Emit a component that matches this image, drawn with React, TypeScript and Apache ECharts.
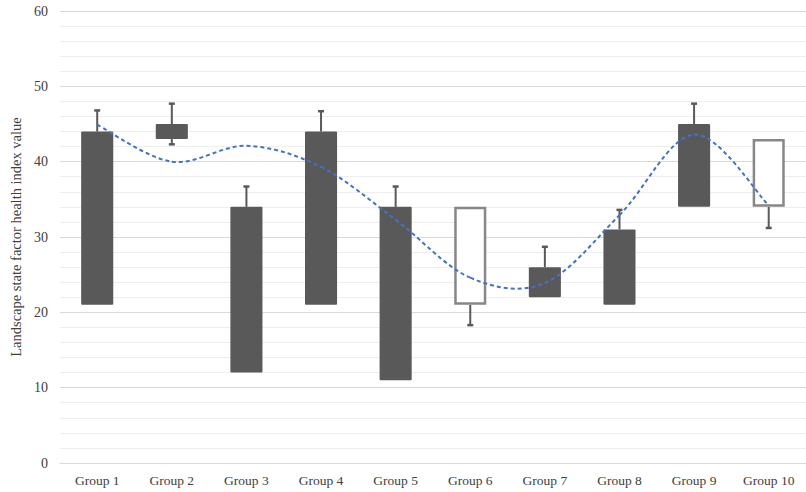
import React, { useEffect, useRef } from "react";
import * as echarts from "echarts";

// Group labels along the x axis
const categories = [
  "Group 1", "Group 2", "Group 3", "Group 4", "Group 5",
  "Group 6", "Group 7", "Group 8", "Group 9", "Group 10",
];

// Floating bar ends (open -> close) and whisker extents
const openValues = [44, 45, 34, 44, 34, 21, 26, 31, 45, 34];
const closeValues = [21, 43, 12, 21, 11, 34, 22, 21, 34, 43];
const lowValues = [21, 42.3, 12, 21, 11, 18.3, 22, 21, 34, 31.2];
const highValues = [46.8, 47.7, 36.7, 46.7, 36.7, 34, 28.7, 33.6, 47.7, 43];

// Smoothed dashed trend line
const trendValues = [44.9, 40.0, 42.1, 39.3, 32.3, 24.6, 23.9, 32.9, 43.6, 34.2];

// Y axis tick labels
const yTicks = [0, 10, 20, 30, 40, 50, 60];

const FONT = "'Liberation Serif', 'Times New Roman', serif";
const DOWN_FILL = "#595959";
const UP_BORDER = "#878787";
const WHISKER = "#595959";
const TREND = "#4472c4";

export default function App() {
  const ref = useRef<HTMLDivElement>(null);

  useEffect(() => {
    if (!ref.current) return;
    const chart = echarts.init(ref.current, undefined, { renderer: "svg" });

    const stockData = categories.map((_, i) => [
      i, openValues[i], closeValues[i], lowValues[i], highValues[i],
    ]);
    const trendData = trendValues.map((v, i) => [i, v]);

    // Floating bar with whiskers and end caps
    const renderStock = (params: any, api: any) => {
      const idx = api.value(0);
      const open = api.value(1);
      const close = api.value(2);
      const low = api.value(3);
      const high = api.value(4);
      const bandW = api.size([1, 0])[0];
      const barW = bandW * 0.43;
      const top = Math.max(open, close);
      const bottom = Math.min(open, close);
      const pTop = api.coord([idx, top]);
      const pBot = api.coord([idx, bottom]);
      const cx = pTop[0];
      const rising = close > open;
      const capHalf = 3;
      const children: any[] = [];

      const whiskerStyle = { stroke: WHISKER, lineWidth: 2, fill: null };
      const capStyle = { stroke: WHISKER, lineWidth: 2.5 };
      if (high > top) {
        const pH = api.coord([idx, high]);
        children.push({
          type: "line",
          shape: { x1: cx, y1: pTop[1], x2: cx, y2: pH[1] },
          style: whiskerStyle,
        });
        children.push({
          type: "line",
          shape: { x1: cx - capHalf, y1: pH[1], x2: cx + capHalf, y2: pH[1] },
          style: capStyle,
        });
      }
      if (low < bottom) {
        const pL = api.coord([idx, low]);
        children.push({
          type: "line",
          shape: { x1: cx, y1: pBot[1], x2: cx, y2: pL[1] },
          style: whiskerStyle,
        });
        children.push({
          type: "line",
          shape: { x1: cx - capHalf, y1: pL[1], x2: cx + capHalf, y2: pL[1] },
          style: capStyle,
        });
      }

      if (rising) {
        const lw = 2.5;
        children.push({
          type: "rect",
          shape: {
            x: cx - barW / 2 + lw / 2,
            y: pTop[1] + lw / 2,
            width: barW - lw,
            height: pBot[1] - pTop[1] - lw,
          },
          style: { fill: "#ffffff", stroke: UP_BORDER, lineWidth: lw },
        });
      } else {
        children.push({
          type: "rect",
          shape: {
            x: cx - barW / 2,
            y: pTop[1],
            width: barW,
            height: pBot[1] - pTop[1],
            r: 1,
          },
          style: { fill: DOWN_FILL },
        });
      }
      return { type: "group", children };
    };

    // Smooth trend: one cubic Bezier per segment, Catmull-Rom tangents
    const renderTrend = (params: any, api: any) => {
      const i = params.dataIndex;
      const n = trendValues.length;
      if (i >= n - 1) return null;
      const pt = (j: number) => {
        const k = Math.min(Math.max(j, 0), n - 1);
        return api.coord([k, trendValues[k]]);
      };
      const p0 = pt(i - 1);
      const p1 = pt(i);
      const p2 = pt(i + 1);
      const p3 = pt(i + 2);
      return {
        type: "bezierCurve",
        shape: {
          x1: p1[0],
          y1: p1[1],
          x2: p2[0],
          y2: p2[1],
          cpx1: p1[0] + (p2[0] - p0[0]) / 6,
          cpy1: p1[1] + (p2[1] - p0[1]) / 6,
          cpx2: p2[0] - (p3[0] - p1[0]) / 6,
          cpy2: p2[1] - (p3[1] - p1[1]) / 6,
        },
        style: { stroke: TREND, lineWidth: 2, lineDash: [4, 3], fill: null },
      };
    };

    chart.setOption({
      animation: false,
      backgroundColor: "#ffffff",
      grid: { left: 54.5, top: 11, width: 763, bottom: 29, containLabel: false },
      xAxis: {
        type: "category",
        data: categories,
        boundaryGap: true,
        axisLine: { show: true, lineStyle: { color: "#d9d9d9", width: 1 } },
        axisTick: { show: false },
        axisLabel: {
          color: "#404040",
          fontFamily: FONT,
          fontSize: 13.5,
          margin: 10,
          interval: 0,
        },
        splitLine: { show: false },
      },
      yAxis: {
        type: "value",
        min: yTicks[0],
        max: yTicks[yTicks.length - 1],
        interval: 10,
        name: "Landscape state factor health index value",
        nameLocation: "middle",
        nameGap: 36,
        nameTextStyle: { color: "#404040", fontFamily: FONT, fontSize: 14.5 },
        axisLine: { show: false },
        axisTick: { show: false },
        axisLabel: {
          color: "#404040",
          fontFamily: FONT,
          fontSize: 14,
          margin: 12,
        },
        splitLine: { show: true, lineStyle: { color: "#d9d9d9", width: 1 } },
        minorTick: { show: false, splitNumber: 5 },
        minorSplitLine: { show: true, lineStyle: { color: "#eeeeee", width: 1 } },
      },
      series: [
        {
          type: "custom",
          name: "Index",
          data: stockData,
          renderItem: renderStock,
          encode: { x: 0, y: [1, 2, 3, 4] },
          z: 2,
        },
        {
          type: "custom",
          name: "Trend",
          data: trendData,
          renderItem: renderTrend,
          encode: { x: 0, y: 1 },
          z: 3,
        },
      ],
    });

    return () => chart.dispose();
  }, []);

  return (
    <div
      ref={ref}
      style={{ position: "fixed", left: 0, top: 0, width: 806, height: 492 }}
    />
  );
}
